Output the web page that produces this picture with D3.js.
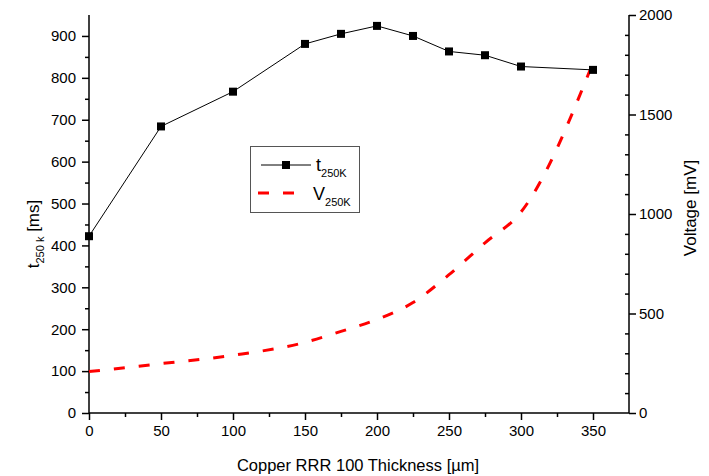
<!DOCTYPE html>
<html>
<head>
<meta charset="utf-8">
<script src="https://cdn.jsdelivr.net/npm/d3@7"></script>
<style>
  html, body { margin: 0; padding: 0; background: #fff; }
  svg { display: block; font-family: "Liberation Sans", Arial, sans-serif; }
</style>
</head>
<body>
<svg id="chart" width="709" height="476"></svg>
<script>
// Copper stabilizer thickness (µm)
const thickness = [0, 50, 100, 150, 175, 200, 225, 250, 275, 300, 350];
// Time to reach 250 K (ms)
const t250K = [422, 684, 767, 881, 905, 924, 900, 863, 854, 827, 819];
// Voltage at 250 K (mV)
const v250K = [208, 248, 290, 355, 410, 470, 555, 695, 855, 1010, 1760];

const xTicks = [0, 50, 100, 150, 200, 250, 300, 350];
const leftTicks = [0, 100, 200, 300, 400, 500, 600, 700, 800, 900];
const rightTicks = [0, 500, 1000, 1500, 2000];

const svg = d3.select("#chart");
const L = 89, R = 629, T = 15, B = 413;

const x = d3.scaleLinear().domain([0, 375]).range([L, R]);
const yL = d3.scaleLinear().domain([0, 950]).range([B, T]);
const yR = d3.scaleLinear().domain([0, 2000]).range([B, T]);

const tickFont = "15px";
const fmt = d3.format("d");

// Bottom axis
const gx = svg.append("g").attr("transform", `translate(0,${B})`);
gx.call(d3.axisBottom(x).tickValues(d3.range(25, 375, 50)).tickSize(4).tickFormat(""));
gx.call(g => g.selectAll(".domain").remove());
const gx2 = svg.append("g").attr("transform", `translate(0,${B})`)
  .call(d3.axisBottom(x).tickValues(xTicks).tickFormat(fmt).tickSize(7).tickSizeOuter(0).tickPadding(5));
gx2.select(".domain").attr("d", `M${L},0H${R}`);

// Left axis
const gl = svg.append("g").attr("transform", `translate(${L},0)`);
gl.call(d3.axisLeft(yL).tickValues(d3.range(50, 950, 100)).tickSize(4).tickFormat(""));
gl.call(g => g.selectAll(".domain").remove());
const gl2 = svg.append("g").attr("transform", `translate(${L},0)`)
  .call(d3.axisLeft(yL).tickValues(leftTicks).tickFormat(fmt).tickSize(7).tickSizeOuter(0).tickPadding(6));
gl2.select(".domain").attr("d", `M0,${T}V${B}`);

// Right axis: minor ticks point inward, major ticks outward
const gr = svg.append("g").attr("transform", `translate(${R},0)`);
gr.call(d3.axisLeft(yR).tickValues(d3.range(100, 2000, 100).filter(v => v % 500 !== 0)).tickSize(4).tickFormat(""));
gr.call(g => g.selectAll(".domain").remove());
const gr2 = svg.append("g").attr("transform", `translate(${R},0)`)
  .call(d3.axisRight(yR).tickValues(rightTicks).tickFormat(fmt).tickSize(7).tickSizeOuter(0).tickPadding(3));
gr2.select(".domain").attr("d", `M0,${T}V${B}`);

svg.selectAll(".tick text").attr("font-size", tickFont).attr("font-family", "Liberation Sans, Arial, sans-serif").attr("fill", "#000");
svg.selectAll(".tick line, .domain").attr("stroke", "#000").attr("stroke-width", 1.5);

// Voltage curve (right axis)
const vLine = d3.line().x((d, i) => x(thickness[i])).y(d => yR(d)).curve(d3.curveMonotoneX);
svg.append("path")
  .attr("d", vLine(v250K))
  .attr("fill", "none")
  .attr("stroke", "#ff0000")
  .attr("stroke-width", 3)
  .attr("stroke-dasharray", "11,14");

// Time curve (left axis)
const tLine = d3.line().x((d, i) => x(thickness[i])).y(d => yL(d));
svg.append("path")
  .attr("d", tLine(t250K))
  .attr("fill", "none")
  .attr("stroke", "#000")
  .attr("stroke-width", 1);
svg.append("g").selectAll("rect").data(t250K).join("rect")
  .attr("x", (d, i) => x(thickness[i]) - 4)
  .attr("y", d => yL(d) - 4)
  .attr("width", 8).attr("height", 8)
  .attr("fill", "#000");

// Axis titles
svg.append("text")
  .attr("x", 358).attr("y", 471)
  .attr("text-anchor", "middle")
  .attr("font-size", "16.5px")
  .text("Copper RRR 100 Thickness [µm]");

const ylab = svg.append("text")
  .attr("transform", `translate(39,${(T + B) / 2 + 20}) rotate(-90)`)
  .attr("text-anchor", "middle")
  .attr("font-size", "17px");
ylab.append("tspan").text("t");
ylab.append("tspan").attr("font-size", "11px").attr("dy", 5).text("250 k");
ylab.append("tspan").attr("dy", -5).text(" [ms]");

svg.append("text")
  .attr("transform", `translate(696,${(T + B) / 2 - 6}) rotate(-90)`)
  .attr("text-anchor", "middle")
  .attr("font-size", "17px")
  .text("Voltage [mV]");

// Legend
const lg = svg.append("g");
lg.append("rect")
  .attr("x", 250.5).attr("y", 146.5).attr("width", 109).attr("height", 66)
  .attr("fill", "#fff").attr("stroke", "#555").attr("stroke-width", 1);
lg.append("line").attr("x1", 261).attr("x2", 311).attr("y1", 165).attr("y2", 165)
  .attr("stroke", "#000").attr("stroke-width", 1);
lg.append("rect").attr("x", 282).attr("y", 161).attr("width", 8).attr("height", 8).attr("fill", "#000");
lg.append("line").attr("x1", 258).attr("x2", 296).attr("y1", 193).attr("y2", 193)
  .attr("stroke", "#ff0000").attr("stroke-width", 3).attr("stroke-dasharray", "11,14");
const lt1 = lg.append("text").attr("x", 316).attr("y", 171).attr("font-size", "18px");
lt1.append("tspan").text("t");
lt1.append("tspan").attr("font-size", "11px").attr("dy", 6).text("250K");
const lt2 = lg.append("text").attr("x", 313).attr("y", 200).attr("font-size", "18px");
lt2.append("tspan").text("V");
lt2.append("tspan").attr("font-size", "11px").attr("dy", 6).text("250K");
</script>
</body>
</html>
